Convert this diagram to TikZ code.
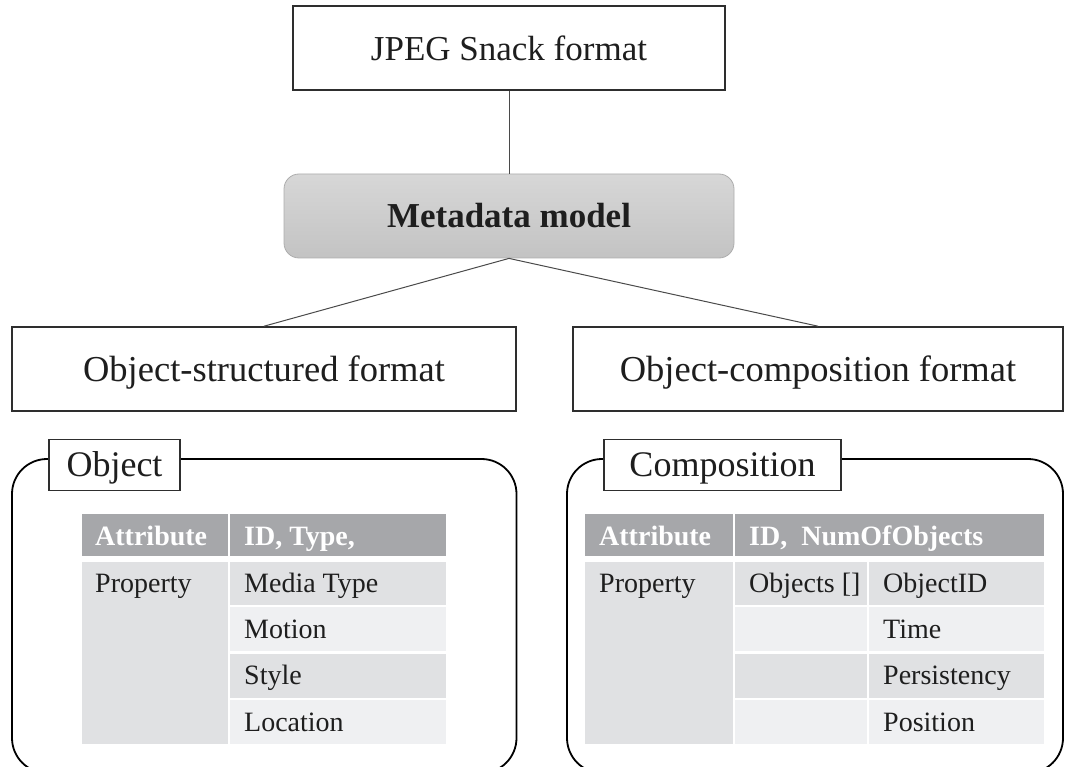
\documentclass[tikz,border=0pt]{standalone}
\usepackage{fontspec}
\setmainfont{Liberation Serif}
\usetikzlibrary{shadings}
\definecolor{hdrgray}{HTML}{A6A7AA}
\definecolor{celldark}{HTML}{E0E1E3}
\definecolor{celllight}{HTML}{EFF0F2}
\definecolor{metatop}{HTML}{D7D7D7}
\definecolor{metabot}{HTML}{C3C3C3}
\definecolor{metaedge}{HTML}{ADADAD}
\definecolor{edgegray}{HTML}{2E2E2E}
\definecolor{linkgray}{HTML}{4A4A4A}
\definecolor{txt}{HTML}{1E1E1E}
\newcommand\tblcell[6]{\node[cellbox, fill=#6, minimum width={(#4-#2)*1pt}, minimum height={(#5-#3)*1pt}] (#1) at ({(#2+#4)/2},{(#3+#5)/2}) {};}
\begin{document}
\begin{tikzpicture}[x=1pt,y=-1pt,
  titlebox/.style={draw=edgegray, line width=1.6pt, fill=white, inner sep=0pt, text=txt,
    font=\fontsize{36.5}{40}\selectfont, text height=30pt, text depth=5.8pt},
  metabox/.style={rounded corners=15pt, draw=metaedge, line width=0.8pt, top color=metatop, bottom color=metabot,
    inner sep=0pt, text=txt, font=\bfseries\fontsize{35}{40}\selectfont, text height=29pt, text depth=5.8pt},
  connector/.style={draw=linkgray, line width=1pt},
  framebox/.style={draw=black, line width=1.8pt, rounded corners=35pt, inner sep=0pt},
  tagbox/.style={draw=edgegray, line width=1.6pt, fill=white, inner sep=0pt, text=txt,
    font=\fontsize{36}{40}\selectfont, text height=30pt, text depth=6.2pt},
  cellbox/.style={inner sep=0pt, outer sep=0pt, draw=none},
  celltxt/.style={anchor=base west, inner sep=0pt, text=txt, font=\fontsize{28}{32}\selectfont},
  hdrtxt/.style={anchor=base west, inner sep=0pt, text=white, font=\bfseries\fontsize{28}{32}\selectfont}
]
\useasboundingbox (0,0) rectangle (1065,767);
\clip (0,0) rectangle (1065,767);

% top hierarchy
\node[titlebox, minimum width=432pt, minimum height=84pt, font=\fontsize{35}{40}\selectfont] (jpeg) at (509,48) {JPEG Snack format};
\node[metabox, minimum width=450pt, minimum height=84pt] (meta) at (509,216) {Metadata model};
\node[titlebox, minimum width=504pt, minimum height=84pt] (osf) at (264,369) {Object-structured format};
\node[titlebox, minimum width=490pt, minimum height=84pt] (ocf) at (818,369) {Object-composition format};
\draw[connector] (jpeg.south) -- (meta.north);
\draw[connector] (meta.south) -- (osf.north);
\draw[connector] (meta.south) -- (ocf.north);

% frames
\node[framebox, minimum width=504.5pt, minimum height=314pt] (objframe) at (264.25,616) {};
\node[framebox, minimum width=496pt, minimum height=314pt] (compframe) at (815,616) {};
\node[tagbox, minimum width=131pt, minimum height=51pt] (objtag) at (114.5,465) {Object};
\node[tagbox, minimum width=237pt, minimum height=51pt] (comptag) at (722.5,465) {Composition};

% object table
\tblcell{oh1}{82}{514}{228}{556}{hdrgray}
\tblcell{oh2}{230}{514}{446}{556}{hdrgray}
\tblcell{oprop}{82}{562}{228}{743.5}{celldark}
\tblcell{or1}{230}{562}{446}{604.5}{celldark}
\tblcell{or2}{230}{607}{446}{651}{celllight}
\tblcell{or3}{230}{653.5}{446}{697.5}{celldark}
\tblcell{or4}{230}{700}{446}{743.5}{celllight}
\node[hdrtxt] (oht1) at (95,545) {Attribute};
\node[hdrtxt] (oht2) at (244,545) {ID, Type,};
\node[celltxt] (opt) at (95,592.5) {Property};
\node[celltxt] (ot1) at (244,592.5) {Media Type};
\node[celltxt] (ot2) at (244,638.3) {Motion};
\node[celltxt] (ot3) at (244,684.8) {Style};
\node[celltxt] (ot4) at (244,731) {Location};

% composition table
\tblcell{ch1}{585}{514}{733}{556}{hdrgray}
\tblcell{ch2}{735}{514}{1044}{556}{hdrgray}
\tblcell{cprop}{585}{562}{733}{743.5}{celldark}
\tblcell{cb1}{735}{562}{867}{604.5}{celldark}
\tblcell{cb2}{735}{607}{867}{651}{celllight}
\tblcell{cb3}{735}{653.5}{867}{697.5}{celldark}
\tblcell{cb4}{735}{700}{867}{743.5}{celllight}
\tblcell{cv1}{869}{562}{1044}{604.5}{celldark}
\tblcell{cv2}{869}{607}{1044}{651}{celllight}
\tblcell{cv3}{869}{653.5}{1044}{697.5}{celldark}
\tblcell{cv4}{869}{700}{1044}{743.5}{celllight}
\node[hdrtxt] (cht1) at (599,545) {Attribute};
\node[hdrtxt] (cht2) at (749,545) {ID,~ NumOfObjects};
\node[celltxt] (cpt) at (599,592.5) {Property};
\node[celltxt] (cbt) at (749,592.5) {Objects []};
\node[celltxt] (ct1) at (883,592.5) {ObjectID};
\node[celltxt] (ct2) at (883,638.3) {Time};
\node[celltxt] (ct3) at (883,684.8) {Persistency};
\node[celltxt] (ct4) at (883,731) {Position};
\end{tikzpicture}
\end{document}
